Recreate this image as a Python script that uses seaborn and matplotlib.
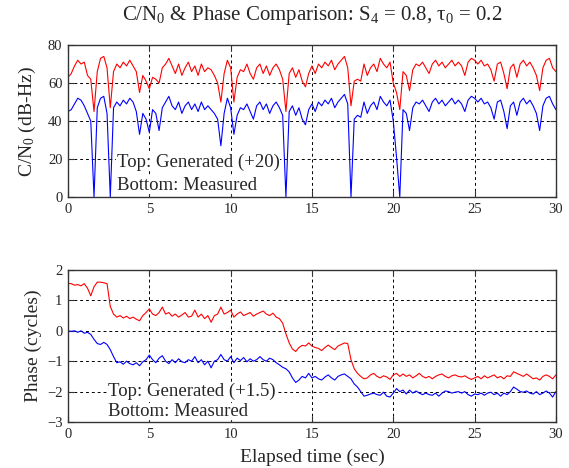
import numpy as np
import matplotlib
matplotlib.use("Agg")
import matplotlib.pyplot as plt
import seaborn as sns

# ---- data ----
cn_measured = [45, 46, 49, 52, 51, 48, 44, 40, 0, 47, 52, 53, 44, 0, 47, 50, 48, 51, 49, 52,
               50, 45, 33, 44, 41, 34, 46, 44, 35, 47, 50, 53, 48, 46, 50, 44, 48, 50, 46, 49,
               45, 50, 46, 48, 46, 44, 41, 27, 44, 52, 47, 33, 43, 47, 46, 49, 45, 41, 48, 50,
               46, 49, 44, 48, 50, 47, 43, 0, 45, 48, 43, 47, 41, 38, 46, 49, 45, 50, 48, 51,
               49, 52, 47, 50, 52, 54, 49, 0, 41, 43, 42, 50, 44, 48, 50, 46, 53, 50, 48, 51,
               40, 21, 0, 46, 44, 35, 47, 50, 49, 51, 48, 45, 50, 52, 49, 51, 48, 50, 52, 49,
               51, 49, 45, 51, 53, 52, 50, 52, 49, 50, 47, 41, 50, 51, 45, 36, 48, 50, 43, 50,
               52, 49, 51, 48, 44, 35, 48, 52, 53, 49, 46]
cn_generated = [63, 65, 69, 72, 70, 71, 64, 62, 45, 66, 73, 74, 68, 47, 66, 70, 68, 71, 69, 72,
                69, 66, 55, 64, 61, 57, 63, 62, 60, 68, 70, 73, 69, 65, 70, 64, 68, 71, 66, 69,
                64, 70, 66, 68, 67, 64, 60, 50, 65, 72, 68, 50, 63, 67, 66, 70, 65, 62, 68, 70,
                65, 69, 64, 68, 70, 67, 62, 45, 65, 68, 63, 67, 61, 58, 65, 69, 65, 70, 68, 71,
                69, 72, 67, 70, 72, 74, 68, 48, 61, 62, 61, 70, 64, 68, 70, 66, 73, 70, 68, 71,
                60, 55, 46, 66, 64, 56, 67, 70, 69, 71, 68, 65, 70, 72, 69, 71, 68, 70, 72, 69,
                71, 69, 64, 71, 73, 72, 70, 72, 69, 70, 67, 61, 70, 71, 65, 57, 68, 70, 63, 70,
                72, 69, 71, 68, 64, 56, 68, 72, 73, 68, 66]
ph_generated = [1.56, 1.55, 1.50, 1.52, 1.48, 1.55, 1.40, 1.15, 1.45, 1.60, 1.60, 1.58, 1.55, 0.80,
                0.55, 0.45, 0.50, 0.42, 0.48, 0.40, 0.45, 0.38, 0.33, 0.50, 0.60, 0.72, 0.55, 0.50,
                0.60, 0.78, 0.55, 0.60, 0.48, 0.55, 0.45, 0.52, 0.60, 0.45, 0.48, 0.68, 0.45, 0.55,
                0.40, 0.50, 0.28, 0.50, 0.55, 0.78, 0.55, 0.60, 0.68, 0.45, 0.55, 0.62, 0.50, 0.55,
                0.60, 0.48, 0.55, 0.60, 0.65, 0.55, 0.50, 0.58, 0.45, 0.40, 0.25, -0.10, -0.40, -0.60,
                -0.68, -0.55, -0.48, -0.50, -0.40, -0.50, -0.55, -0.58, -0.65, -0.55, -0.47, -0.55,
                -0.62, -0.50, -0.45, -0.40, -0.42, -0.95, -1.25, -1.40, -1.50, -1.58, -1.55, -1.45,
                -1.40, -1.50, -1.55, -1.48, -1.52, -1.60, -1.45, -1.40, -1.50, -1.42, -1.50, -1.45,
                -1.55, -1.48, -1.40, -1.50, -1.55, -1.50, -1.58, -1.50, -1.45, -1.42, -1.50, -1.55,
                -1.48, -1.45, -1.50, -1.52, -1.48, -1.55, -1.60, -1.55, -1.50, -1.58, -1.48, -1.55,
                -1.50, -1.45, -1.55, -1.50, -1.58, -1.48, -1.50, -1.35, -1.40, -1.45, -1.50, -1.42,
                -1.50, -1.58, -1.55, -1.62, -1.50, -1.45, -1.50, -1.58, -1.45]
ph_measured = [0.00, -0.02, 0.00, -0.05, 0.00, -0.08, -0.05, -0.12, -0.28, -0.42, -0.45, -0.38,
               -0.45, -0.62, -0.85, -1.05, -1.02, -1.10, -1.00, -1.08, -1.12, -1.05, -1.15, -1.02,
               -0.95, -0.80, -0.95, -1.05, -0.90, -0.82, -1.00, -1.08, -0.95, -1.05, -0.92, -1.02,
               -1.05, -0.95, -1.00, -0.85, -1.05, -0.95, -1.12, -1.00, -1.22, -1.00, -0.95, -0.78,
               -0.95, -1.00, -0.85, -1.05, -0.90, -0.98, -0.88, -1.02, -0.92, -1.00, -0.95, -0.85,
               -0.95, -1.00, -0.90, -0.95, -1.05, -1.12, -1.20, -1.25, -1.35, -1.55, -1.70, -1.62,
               -1.50, -1.55, -1.40, -1.55, -1.50, -1.58, -1.62, -1.52, -1.45, -1.55, -1.62, -1.50,
               -1.45, -1.42, -1.50, -1.58, -1.75, -1.85, -2.00, -2.15, -2.12, -2.08, -2.05, -2.10,
               -2.12, -2.02, -2.15, -2.18, -2.05, -1.90, -2.00, -1.95, -2.08, -1.95, -2.05, -1.98,
               -2.05, -2.10, -2.05, -2.10, -2.12, -2.05, -2.15, -2.05, -1.98, -2.00, -2.05, -2.02,
               -2.00, -2.05, -2.00, -2.10, -2.15, -2.08, -2.10, -2.05, -2.12, -2.05, -2.02, -2.10,
               -2.05, -2.15, -2.05, -2.10, -2.00, -1.85, -1.92, -2.00, -2.02, -1.98, -2.05, -2.08,
               -2.00, -2.10, -2.05, -1.98, -2.05, -2.18, -2.00]

x_ticks = [0, 5, 10, 15, 20, 25, 30]
cn_ticks = [0, 20, 40, 60, 80]
ph_ticks = [-3, -2, -1, 0, 1, 2]

title = r"C/N$_0$ & Phase Comparison: S$_4$ = 0.8, $\tau_0$ = 0.2"
cn_ylabel = r"C/N$_0$ (dB-Hz)"
ph_ylabel = "Phase (cycles)"
xlabel = "Elapsed time (sec)"
cn_notes = ["Top: Generated (+20)", "Bottom: Measured"]
ph_notes = ["Top: Generated (+1.5)", "Bottom: Measured"]

# ---- style ----
sns.set_style("white")
plt.rcParams["font.family"] = ["Liberation Serif", "DejaVu Serif"]
plt.rcParams["mathtext.fontset"] = "custom"
plt.rcParams["mathtext.rm"] = "Liberation Serif"
plt.rcParams["mathtext.it"] = "Liberation Serif:italic"
plt.rcParams["mathtext.default"] = "regular"

fig = plt.figure(figsize=(5.69, 4.68), dpi=100)
ax1 = fig.add_axes([0.1195, 0.579, 0.8575, 0.3248])
ax2 = fig.add_axes([0.1195, 0.0983, 0.8575, 0.3248])

t_cn = np.linspace(0, 30, len(cn_measured))
t_ph = np.linspace(0, 30, len(ph_measured))

sns.lineplot(x=t_cn, y=cn_generated, color="#ff0000", lw=0.8, ax=ax1)
sns.lineplot(x=t_cn, y=cn_measured, color="#0000ff", lw=0.8, ax=ax1)
sns.lineplot(x=t_ph, y=ph_generated, color="#ff0000", lw=0.8, ax=ax2)
sns.lineplot(x=t_ph, y=ph_measured, color="#0000ff", lw=0.8, ax=ax2)

for ax, yt, lim in [(ax1, cn_ticks, (0, 80)), (ax2, ph_ticks, (-3, 2))]:
    ax.set_xlim(0, 30)
    ax.set_ylim(*lim)
    ax.set_xticks(x_ticks)
    ax.set_yticks(yt)
    ax.grid(True, color="black", linestyle=(0, (3, 3)), lw=0.7)
    ax.tick_params(direction="in", length=4, labelsize=10.5, top=True, right=True,
                   left=True, bottom=True, pad=4, color="#333333")
    for s in ax.spines.values():
        s.set_color("#333333")
        s.set_linewidth(1.0)

ax1.set_title(title, fontsize=15, pad=18)
ax1.set_ylabel(cn_ylabel, fontsize=14)
ax2.set_ylabel(ph_ylabel, fontsize=14)
ax1.yaxis.set_label_coords(-0.062, 0.5)
ax2.yaxis.set_label_coords(-0.054, 0.5)
ax2.set_xlabel(xlabel, fontsize=14, labelpad=6)

bb = dict(facecolor="white", edgecolor="none", pad=0.3)
ax1.text(3.0, 16.0, cn_notes[0], fontsize=13.5, bbox=bb, va="baseline", zorder=5)
ax1.text(3.0, 3.7, cn_notes[1], fontsize=13.5, bbox=bb, va="baseline", zorder=5)
ax2.text(2.45, -2.13, ph_notes[0], fontsize=13.5, bbox=bb, va="baseline", zorder=5)
ax2.text(2.45, -2.80, ph_notes[1], fontsize=13.5, bbox=bb, va="baseline", zorder=5)

fig.savefig("out.png", dpi=100)
